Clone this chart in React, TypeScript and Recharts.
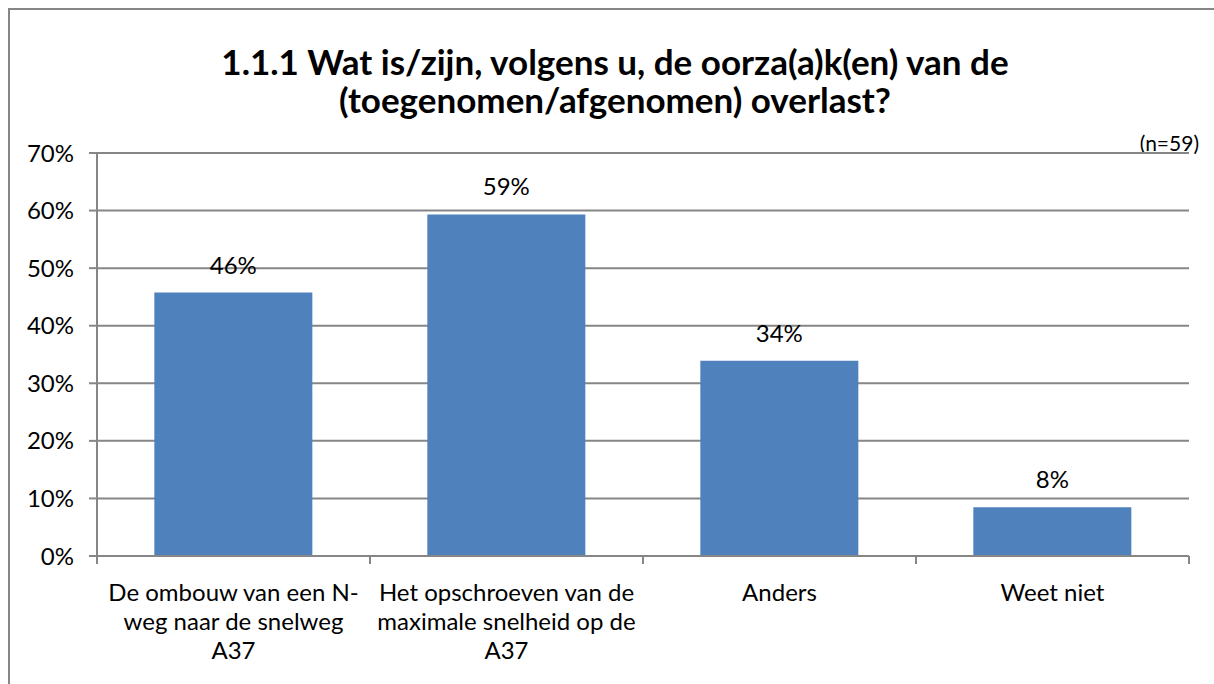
import React from "react";
import {
  BarChart,
  Bar,
  XAxis,
  YAxis,
  CartesianGrid,
  LabelList,
} from "recharts";

const categories = [
  "De ombouw van een N-weg naar de snelweg A37",
  "Het opschroeven van de maximale snelheid op de A37",
  "Anders",
  "Weet niet",
];

// wrapped as in the original
const categoryLines = [
  ["De ombouw van een N-", "weg naar de snelweg", "A37"],
  ["Het opschroeven van de", "maximale snelheid op de", "A37"],
  ["Anders"],
  ["Weet niet"],
];

const percentages = [45.76, 59.32, 33.9, 8.47];

const yTicks = [0, 10, 20, 30, 40, 50, 60, 70];

const titleLines = [
  "1.1.1 Wat is/zijn, volgens u, de oorza(a)k(en) van de",
  "(toegenomen/afgenomen) overlast?",
];
const sampleNote = "(n=59)";

const data = categories.map((name, i) => ({ name, value: percentages[i] }));

const W = 1214;
const H = 684;
const Y_AXIS_W = 97;
const MARGIN = { top: 153, right: 25, bottom: 28, left: 0 };
const BAND = (W - MARGIN.right - Y_AXIS_W - MARGIN.left) / categories.length;
const FONT = "Lato, 'Open Sans', sans-serif";
const GRAY = "#868686";
const LABEL_SIZE = 24;

function CategoryTick(props: any) {
  const { x, y, index } = props;
  const lines = categoryLines[index] || [];
  const last = index === categories.length - 1;
  return (
    <g>
      <line x1={x - BAND / 2} x2={x - BAND / 2} y1={y} y2={y + 8} stroke={GRAY} strokeWidth={2} />
      {last && (
        <line x1={x + BAND / 2} x2={x + BAND / 2} y1={y} y2={y + 8} stroke={GRAY} strokeWidth={2} />
      )}
      <text x={x} y={y} textAnchor="middle" fill="#000" fontSize={LABEL_SIZE} fontFamily={FONT}>
        {lines.map((l, i) => (
          <tspan key={i} x={x} dy={i === 0 ? 45 : 29}>
            {l}
          </tspan>
        ))}
      </text>
    </g>
  );
}

export default function App() {
  return (
    <div
      style={{
        position: "absolute",
        left: 0,
        top: 0,
        width: W,
        height: H,
        overflow: "hidden",
        background: "#fff",
        fontFamily: FONT,
      }}
    >
      <div
        style={{
          position: "absolute",
          left: 8,
          top: 8,
          width: W + 20,
          height: H + 20,
          border: `2px solid ${GRAY}`,
        }}
      />
      <div
        style={{
          position: "absolute",
          left: 0,
          width: 1230,
          top: 42,
          textAlign: "center",
          fontWeight: 700,
          fontSize: 35,
          lineHeight: "38px",
          color: "#000",
        }}
      >
        {titleLines.map((t) => (
          <div key={t}>{t}</div>
        ))}
      </div>
      <div
        style={{
          position: "absolute",
          right: 15,
          top: 130,
          fontSize: 21,
          color: "#000",
        }}
      >
        {sampleNote}
      </div>
      <div style={{ position: "absolute", left: 0, top: 0 }}>
        <BarChart width={W} height={H} data={data} margin={MARGIN} barCategoryGap="21%">
          <CartesianGrid vertical={false} stroke={GRAY} strokeWidth={2} />
          <XAxis
            dataKey="name"
            interval={0}
            height={100}
            axisLine={{ stroke: GRAY, strokeWidth: 2 }}
            tickLine={false}
            tickSize={0}
            tickMargin={0}
            tick={<CategoryTick />}
          />
          <YAxis
            width={Y_AXIS_W}
            domain={[0, 70]}
            ticks={yTicks}
            interval={0}
            tickFormatter={(v: number) => `${v}%`}
            axisLine={{ stroke: GRAY, strokeWidth: 2 }}
            tickLine={{ stroke: GRAY, strokeWidth: 2 }}
            tickSize={8}
            tickMargin={15}
            tick={{ fill: "#000", fontSize: LABEL_SIZE, fontFamily: FONT }}
          />
          <Bar dataKey="value" fill="#4F81BD" isAnimationActive={false}>
            <LabelList
              dataKey="value"
              position="top"
              offset={19}
              formatter={(v: any) => `${Math.round(Number(v))}%`}
              style={{ fill: "#000", fontSize: LABEL_SIZE, fontFamily: FONT }}
            />
          </Bar>
        </BarChart>
      </div>
    </div>
  );
}
